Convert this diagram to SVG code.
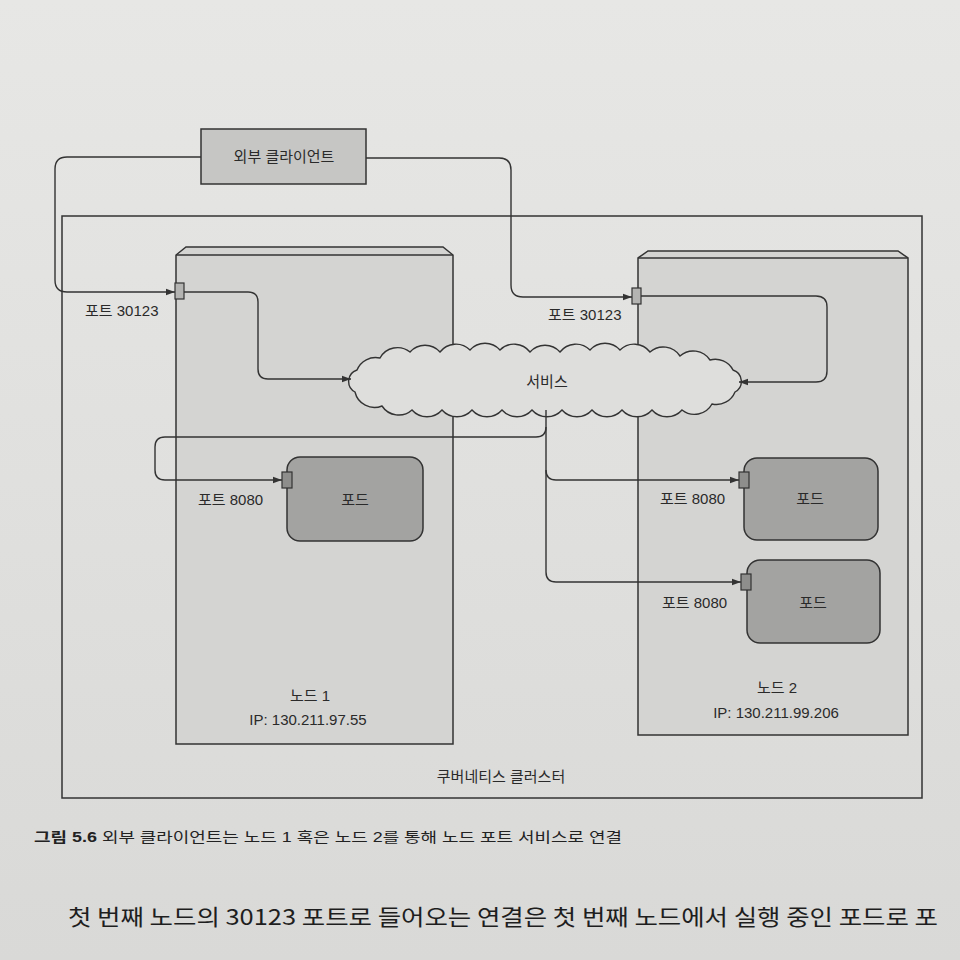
<svg xmlns="http://www.w3.org/2000/svg" width="960" height="960" viewBox="0 0 960 960">
<defs>
<linearGradient id="page" x1="0" y1="0" x2="0" y2="1">
<stop offset="0" stop-color="#e7e7e5"/>
<stop offset="1" stop-color="#d9d9d7"/>
</linearGradient>
<marker id="arr" viewBox="0 0 10 10" refX="10" refY="5" markerWidth="9" markerHeight="9" markerUnits="userSpaceOnUse" orient="auto">
<path d="M0,1.5 L10,5 L0,8.5 Z" fill="#333"/>
</marker>
<style>
.ln{fill:none;stroke:#333;stroke-width:1.4}
.con{fill:none;stroke:#333;stroke-width:1.4;marker-end:url(#arr)}
.node{fill:#d4d4d2;stroke:#333;stroke-width:1.5}
.pod{fill:#a3a3a1;stroke:#333;stroke-width:1.5}
.port{fill:#b4b4b2;stroke:#333;stroke-width:1.2}
.pport{fill:#8e8e8c;stroke:#333;stroke-width:1.2}
.t{font-family:"Liberation Sans","Noto Sans CJK KR",sans-serif;font-size:15px;fill:#2a2a2a}
.c{text-anchor:middle}
</style>
</defs>
<rect x="0" y="0" width="960" height="960" fill="url(#page)"/>

<g id="cluster">
<rect x="62" y="216" width="860" height="582" fill="none" stroke="#333" stroke-width="1.5"/>
<text class="t c" x="501" y="782">쿠버네티스 클러스터</text>
</g>

<g id="node1">
<path class="node" d="M176,744 V255 L186,247 H443 L453,255 V744 Z"/>
<line class="ln" x1="176" y1="255" x2="453" y2="255"/>
<text class="t c" x="310" y="701">노드 1</text>
<text class="t c" x="308" y="725" font-size="14">IP: 130.211.97.55</text>
</g>

<g id="node2">
<path class="node" d="M638,735 V258 L648,251 H898 L908,258 V735 Z"/>
<line class="ln" x1="638" y1="258" x2="908" y2="258"/>
<text class="t c" x="777" y="693">노드 2</text>
<text class="t c" x="776" y="718" font-size="14">IP: 130.211.99.206</text>
</g>

<g id="client">
<rect x="201" y="129" width="165" height="55" fill="#c6c6c4" stroke="#333" stroke-width="1.5"/>
<text class="t c" x="284" y="162">외부 클라이언트</text>
</g>

<g id="service">
<path d="M355,392 A12,12 0 0 1 357,370 A20,20 0 0 1 380,358 A20,20 0 0 1 410,352 A20,20 0 0 1 440,352 A20,20 0 0 1 470,350 A20,20 0 0 1 500,350 A20,20 0 0 1 530,352 A20,20 0 0 1 560,352 A20,20 0 0 1 590,350 A20,20 0 0 1 620,350 A20,20 0 0 1 650,352 A20,20 0 0 1 680,356 A20,20 0 0 1 710,360 A20,20 0 0 1 733,370 A12,12 0 0 1 735,392 A20,20 0 0 1 712,404 A20,20 0 0 1 682,410 A20,20 0 0 1 652,410 A20,20 0 0 1 622,410 A20,20 0 0 1 592,410 A20,20 0 0 1 562,410 A20,20 0 0 1 532,410 A20,20 0 0 1 502,410 A20,20 0 0 1 472,410 A20,20 0 0 1 442,410 A20,20 0 0 1 412,410 A20,20 0 0 1 382,406 A20,20 0 0 1 355,392 Z" fill="#dededc" stroke="#333" stroke-width="1.4"/>
<text class="t c" x="547" y="387">서비스</text>
</g>

<g id="pod1">
<rect class="pod" x="287" y="457" width="136" height="84" rx="13"/>
<text class="t c" x="355" y="505">포드</text>
</g>
<g id="pod2">
<rect class="pod" x="744" y="458" width="134" height="82" rx="13"/>
<text class="t c" x="810" y="504">포드</text>
</g>
<g id="pod3">
<rect class="pod" x="747" y="560" width="133" height="83" rx="13"/>
<text class="t c" x="813" y="608">포드</text>
</g>

<g id="connectors">
<path class="con" d="M201,157 H67 Q55,157 55,169 V280 Q55,292 67,292 H175"/>
<path class="con" d="M366,158 H499 Q511,158 511,170 V285 Q511,297 523,297 H632"/>
<path class="con" d="M184,292 H248 Q258,292 258,302 V369 Q258,379 268,379 H351"/>
<path class="con" d="M641,296 H816 Q827,296 827,307 V371 Q827,382 816,382 H739"/>
<path class="con" d="M546,410 V427 Q546,437 536,437 H165 Q155,437 155,447 V470 Q155,480 165,480 H282"/>
<path class="con" d="M546,427 V572 Q546,582 556,582 H741"/>
<path class="con" d="M546,470 Q546,480 556,480 H739"/>
</g>

<g id="ports">
<rect class="port" x="175" y="283" width="9" height="16"/>
<rect class="port" x="632" y="288" width="9" height="16"/>
<rect class="pport" x="282" y="472" width="10" height="16"/>
<rect class="pport" x="739" y="472" width="10" height="16"/>
<rect class="pport" x="741" y="574" width="10" height="16"/>
</g>

<g id="labels">
<text class="t" x="85" y="316">포트 30123</text>
<text class="t" x="548" y="320">포트 30123</text>
<text class="t" x="198" y="505">포트 8080</text>
<text class="t" x="660" y="504">포트 8080</text>
<text class="t" x="662" y="608">포트 8080</text>
</g>

<g id="caption">
<text x="34" y="842" font-family="'Liberation Sans','Noto Sans CJK KR',sans-serif" font-size="14" fill="#222" textLength="588" lengthAdjust="spacingAndGlyphs"><tspan font-weight="bold">그림 5.6</tspan> 외부 클라이언트는 노드 1 혹은 노드 2를 통해 노드 포트 서비스로 연결</text>
<text x="68" y="925" font-family="'Noto Sans CJK KR',sans-serif" font-size="22" fill="#1e1e1e" textLength="870" lengthAdjust="spacingAndGlyphs">첫 번째 노드의 30123 포트로 들어오는 연결은 첫 번째 노드에서 실행 중인 포드로 포</text>
</g>
</svg>
